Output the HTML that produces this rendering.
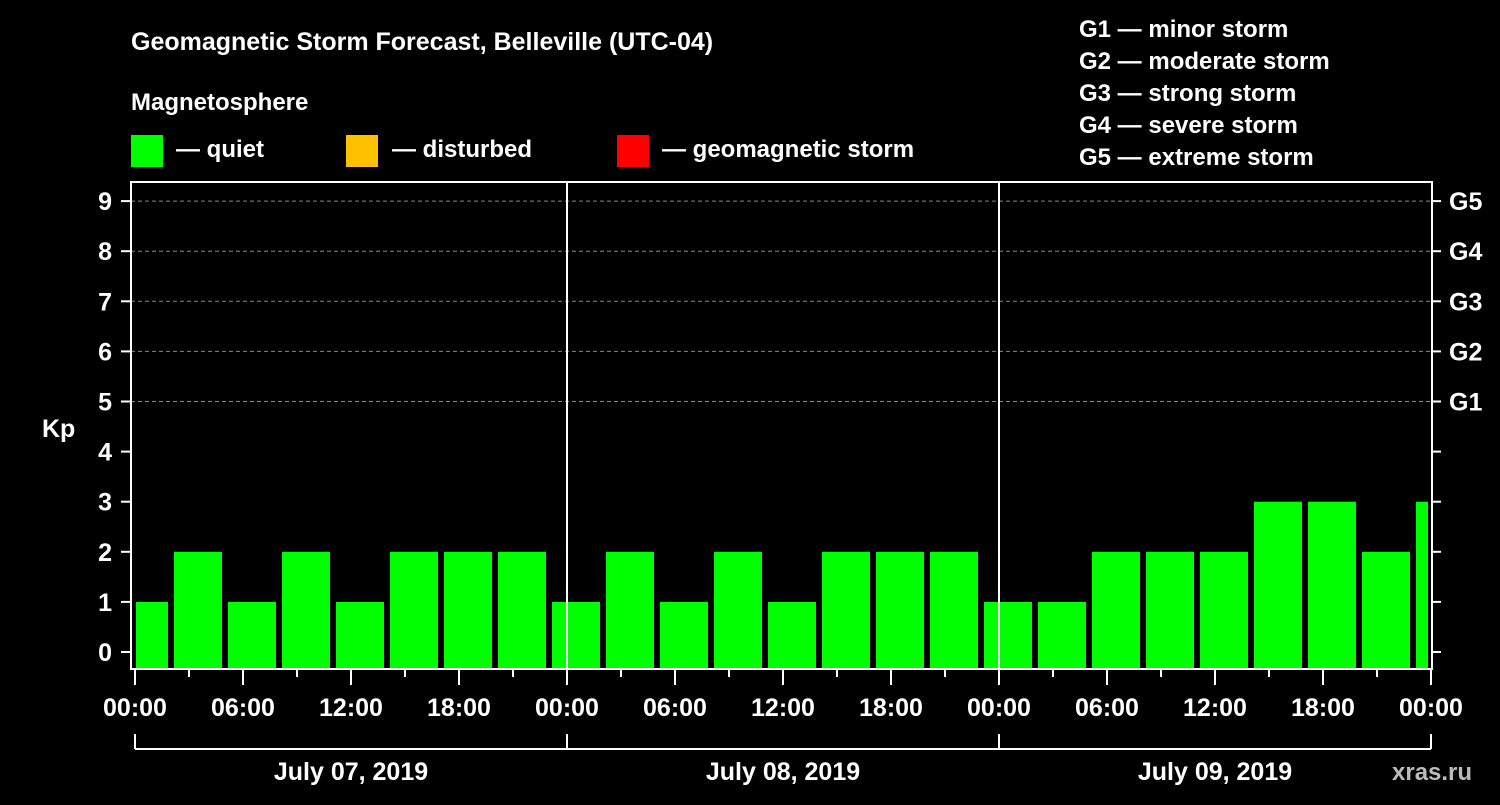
<!DOCTYPE html>
<html><head><meta charset="utf-8"><style>
body{margin:0;background:#000;width:1500px;height:800px;overflow:hidden}
svg text{font-family:"Liberation Sans",Arial,sans-serif;font-weight:bold;fill:#fff}
</style></head><body>
<svg id="chart" width="1500" height="800" xmlns="http://www.w3.org/2000/svg">
<text x="131" y="50" font-size="25">Geomagnetic Storm Forecast, Belleville (UTC-04)</text>
<text x="131" y="110" font-size="24">Magnetosphere</text>
<g>
<rect x="131" y="135" width="32" height="32" fill="#00ff00"/>
<text x="176" y="157" font-size="24">— quiet</text>
<rect x="346" y="135" width="32" height="32" fill="#ffc000"/>
<text x="392" y="157" font-size="24">— disturbed</text>
<rect x="617" y="135" width="32" height="32" fill="#ff0000"/>
<text x="662" y="157" font-size="24">— geomagnetic storm</text>
</g>
<g font-size="24">
<text x="1079" y="37">G1 — minor storm</text>
<text x="1079" y="69">G2 — moderate storm</text>
<text x="1079" y="101">G3 — strong storm</text>
<text x="1079" y="133">G4 — severe storm</text>
<text x="1079" y="165">G5 — extreme storm</text>
</g>
<text x="42" y="437" font-size="25">Kp</text>
<text x="1392" y="780" font-size="24" style="fill:#bbb">xras.ru</text>
<defs><clipPath id="pc"><rect x="136" y="182" width="1292" height="487"/></clipPath></defs>
<g id="grid"></g><g id="bars" clip-path="url(#pc)"></g><g id="axes"></g>
</svg>
<script>
const kpValues=[1,2,1,2,1,2,2,2, 1,2,1,2,1,2,2,2, 1,1,2,2,2,3,3,2,3];
const yTicks=[0,1,2,3,4,5,6,7,8,9];
const gLabels=["G1","G2","G3","G4","G5"];
const xTickLabels=["00:00","06:00","12:00","18:00","00:00","06:00","12:00","18:00","00:00","06:00","12:00","18:00","00:00"];
const dayLabels=["July 07, 2019","July 08, 2019","July 09, 2019"];
const NS="http://www.w3.org/2000/svg";
const X0=135,PXH=18,Y0=652,PXK=50.1,BOT=668,TOP=182,LEFT=131,RIGHT=1432;
const xs=h=>X0+h*PXH, ys=k=>Y0-k*PXK;
function mk(p,tag,a){const e=document.createElementNS(NS,tag);for(const k in a)e.setAttribute(k,a[k]);p.appendChild(e);return e;}
const grid=document.getElementById('grid'),bars=document.getElementById('bars'),axes=document.getElementById('axes');
for(let k=5;k<=9;k++){const l=mk(grid,'line',{x1:LEFT,x2:RIGHT,y1:ys(k),y2:ys(k),stroke:'#888','stroke-dasharray':'4,3','stroke-width':1});

}
kpValues.forEach((v,i)=>{const c=xs(0.5+3*i);const r=mk(bars,'rect',{x:c-24,y:ys(v),width:48,height:BOT-ys(v),fill:'#00ff00'});

});
const frame=mk(axes,'rect',{x:LEFT,y:TOP,width:RIGHT-LEFT,height:BOT+1-TOP,fill:'none',stroke:'#fff','stroke-width':2});


for(let d=1;d<3;d++){const l=mk(axes,'line',{x1:xs(24*d),x2:xs(24*d),y1:TOP,y2:BOT,stroke:'#fff','stroke-width':2});

}
yTicks.forEach(k=>{mk(axes,'line',{x1:121,x2:LEFT,y1:ys(k),y2:ys(k),stroke:'#fff','stroke-width':2});
mk(axes,'line',{x1:RIGHT,x2:1441,y1:ys(k),y2:ys(k),stroke:'#fff','stroke-width':2});
const t=mk(axes,'text',{x:112,y:ys(k)+9,'font-size':25,'text-anchor':'end'});t.textContent=k;

});
gLabels.forEach((g,i)=>{const t=mk(axes,'text',{x:1449,y:ys(5+i)+9,'font-size':25});t.textContent=g;

});
for(let h=0;h<=72;h+=3){const major=h%6===0;mk(axes,'line',{x1:xs(h),x2:xs(h),y1:BOT,y2:major?685:677,stroke:'#fff','stroke-width':2});}
xTickLabels.forEach((s,i)=>{const t=mk(axes,'text',{x:xs(6*i),y:716,'font-size':25,'text-anchor':'middle'});t.textContent=s;

});
mk(axes,'line',{x1:xs(0),x2:xs(72),y1:749,y2:749,stroke:'#fff','stroke-width':2});
for(let d=0;d<=3;d++)mk(axes,'line',{x1:xs(24*d),x2:xs(24*d),y1:734,y2:749,stroke:'#fff','stroke-width':2});
dayLabels.forEach((s,i)=>{const t=mk(axes,'text',{x:xs(24*i+12),y:780,'font-size':25,'text-anchor':'middle'});t.textContent=s;

});
</script>
</body></html>
